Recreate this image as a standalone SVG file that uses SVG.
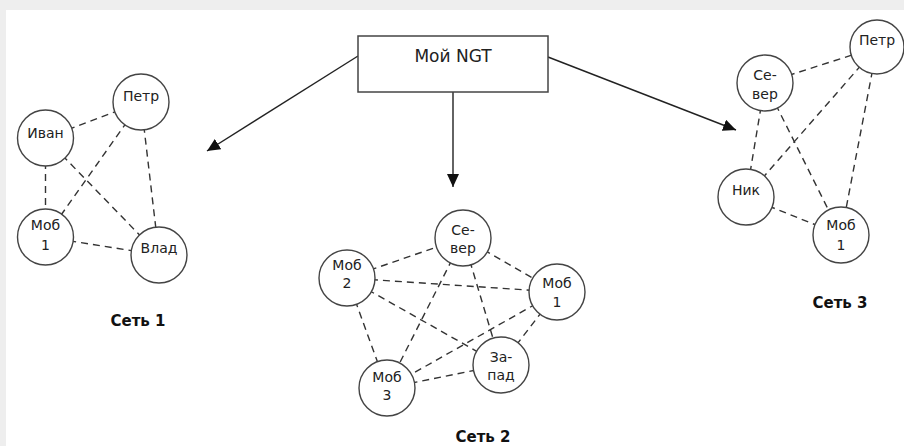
<svg xmlns="http://www.w3.org/2000/svg" width="904" height="446" viewBox="0 0 904 446">
<defs>
<marker id="ah" markerUnits="userSpaceOnUse" markerWidth="14" markerHeight="12" refX="13" refY="6" orient="auto">
<path d="M0,0 L13,6 L0,12 Z" fill="#111"/>
</marker>
<style>
.node circle{fill:#fff;stroke:#444;stroke-width:1.4}
.node text,.box text{font-family:"DejaVu Sans",Verdana,sans-serif;font-size:14px;fill:#222;text-anchor:middle}
.box text{font-size:17px}
.box rect{fill:#fff;stroke:#444;stroke-width:1.5}
.e{stroke:#333;stroke-width:1.4;stroke-dasharray:7,5;fill:none}
.a{stroke:#222;stroke-width:1.4;fill:none;marker-end:url(#ah)}
.cap{font-family:"DejaVu Sans",Verdana,sans-serif;font-size:15px;font-weight:bold;fill:#111;text-anchor:middle}
</style>
</defs>
<rect x="0" y="0" width="904" height="446" fill="#eeeeee"/>
<rect x="6" y="10" width="898" height="436" fill="#ffffff"/>

<g id="connectors">
<!-- arrows -->
<line class="a" x1="358" y1="56" x2="207" y2="151"/>
<line class="a" x1="453" y1="92" x2="453" y2="187"/>
<line class="a" x1="548" y1="57" x2="736" y2="130"/>
<!-- net 1 -->
<line class="e" x1="45.5" y1="138" x2="141" y2="102"/>
<line class="e" x1="45.5" y1="138" x2="45.5" y2="237"/>
<line class="e" x1="45.5" y1="138" x2="159" y2="255"/>
<line class="e" x1="141" y1="102" x2="45.5" y2="237"/>
<line class="e" x1="141" y1="102" x2="159" y2="255"/>
<line class="e" x1="45.5" y1="237" x2="159" y2="255"/>
<!-- net 2 -->
<line class="e" x1="347" y1="278" x2="463" y2="238"/>
<line class="e" x1="463" y1="238" x2="557" y2="292"/>
<line class="e" x1="347" y1="278" x2="557" y2="292"/>
<line class="e" x1="347" y1="278" x2="501" y2="365"/>
<line class="e" x1="347" y1="278" x2="387" y2="388"/>
<line class="e" x1="463" y1="238" x2="387" y2="388"/>
<line class="e" x1="463" y1="238" x2="501" y2="365"/>
<line class="e" x1="557" y1="292" x2="387" y2="388"/>
<line class="e" x1="557" y1="292" x2="501" y2="365"/>
<line class="e" x1="387" y1="388" x2="501" y2="365"/>
<!-- net 3 -->
<line class="e" x1="765" y1="83" x2="877" y2="47"/>
<line class="e" x1="765" y1="83" x2="746" y2="197"/>
<line class="e" x1="765" y1="83" x2="841" y2="235"/>
<line class="e" x1="877" y1="47" x2="746" y2="197"/>
<line class="e" x1="877" y1="47" x2="841" y2="235"/>
<line class="e" x1="746" y1="197" x2="841" y2="235"/>
</g>

<g id="ngt" class="box">
<rect x="358" y="36" width="190" height="56"/>
<text x="453" y="62">Мой NGT</text>
</g>

<g id="n1-petr" class="node"><circle cx="141" cy="102" r="28"/><text x="141" y="101">Петр</text></g>
<g id="n1-ivan" class="node"><circle cx="45.5" cy="138" r="28"/><text x="45.5" y="138">Иван</text></g>
<g id="n1-mob1" class="node"><circle cx="45.5" cy="237" r="28"/><text x="45.5" y="230">Моб</text><text x="45.5" y="250">1</text></g>
<g id="n1-vlad" class="node"><circle cx="159" cy="255" r="28"/><text x="159" y="253">Влад</text></g>
<text class="cap" x="138" y="326">Сеть 1</text>

<g id="n2-sever" class="node"><circle cx="463" cy="238" r="28"/><text x="463" y="235">Се-</text><text x="463" y="253">вер</text></g>
<g id="n2-mob2" class="node"><circle cx="347" cy="278" r="28"/><text x="347" y="270">Моб</text><text x="347" y="288">2</text></g>
<g id="n2-mob1" class="node"><circle cx="557" cy="292" r="28"/><text x="557" y="288">Моб</text><text x="557" y="307">1</text></g>
<g id="n2-zapad" class="node"><circle cx="501" cy="365" r="28"/><text x="501" y="362">За-</text><text x="501" y="380">пад</text></g>
<g id="n2-mob3" class="node"><circle cx="387" cy="388" r="28"/><text x="387" y="382">Моб</text><text x="387" y="400">3</text></g>
<text class="cap" x="483" y="442">Сеть 2</text>

<g id="n3-sever" class="node"><circle cx="765" cy="83" r="28"/><text x="765" y="80">Се-</text><text x="765" y="99">вер</text></g>
<g id="n3-petr" class="node"><circle cx="877" cy="47" r="27"/><text x="877" y="45">Петр</text></g>
<g id="n3-nik" class="node"><circle cx="746" cy="197" r="28"/><text x="746" y="195">Ник</text></g>
<g id="n3-mob1" class="node"><circle cx="841" cy="235" r="28"/><text x="841" y="230">Моб</text><text x="841" y="250">1</text></g>
<text class="cap" x="840" y="308">Сеть 3</text>
</svg>
